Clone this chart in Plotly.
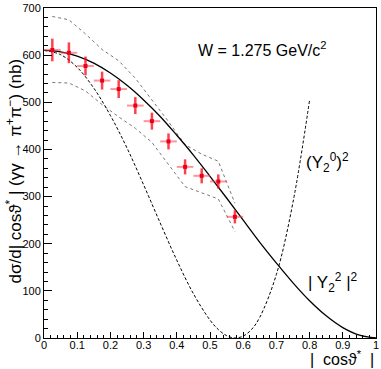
import plotly.graph_objects as go

# ---- data ----
bin_centers = [0.025, 0.075, 0.125, 0.175, 0.225, 0.275, 0.325, 0.375, 0.425, 0.475, 0.525, 0.575]
xsec = [611, 605, 577, 546, 528, 493, 460, 417, 363, 344, 332, 257]
xsec_err = [24, 22, 20, 19, 19, 18, 18, 17, 16, 16, 15, 14]
bin_halfwidth = [0.025] * 12

band_upper = [682, 675, 645, 612, 588, 551, 505, 459, 410, 390, 375, 286]
band_lower = [542, 541, 524, 495, 469, 445, 415, 368, 321, 308, 295, 226]

curve_x = [0.0, 0.05, 0.10, 0.15, 0.20, 0.25, 0.30, 0.35, 0.40, 0.45, 0.50,
           0.55, 0.60, 0.65, 0.70, 0.75, 0.80, 0.85, 0.90, 0.95, 1.0]
y22_vals = [610, 607, 598, 583, 562, 536, 505, 470, 430, 388, 343,
            297, 250, 203, 159, 117, 79, 47, 22, 6, 0]

y20_x = [0.0, 0.05, 0.10, 0.15, 0.20, 0.25, 0.30, 0.35, 0.40, 0.45, 0.50,
         0.525, 0.55, 0.575, 0.60, 0.625, 0.65, 0.70, 0.75, 0.80]
y20_vals = [610, 601, 574, 530, 472, 403, 325, 244, 165, 94, 38,
            18, 5, 0, 4, 18, 44, 135, 288, 505]

FONT = "Liberation Sans, Arial, Helvetica, sans-serif"

fig = go.Figure()

# band (dotted)
fig.add_trace(go.Scatter(x=bin_centers, y=band_upper, mode="lines",
                         line=dict(color="#777777", width=1, dash="dot"), showlegend=False))
fig.add_trace(go.Scatter(x=bin_centers, y=band_lower, mode="lines",
                         line=dict(color="#777777", width=1, dash="dot"), showlegend=False))

# (Y2^0)^2 dashed
fig.add_trace(go.Scatter(x=y20_x, y=y20_vals, mode="lines", line_shape="spline",
                         line=dict(color="black", width=1, dash="3px,2px"), showlegend=False))

# |Y2^2|^2 solid
fig.add_trace(go.Scatter(x=curve_x, y=y22_vals, mode="lines", line_shape="spline",
                         line=dict(color="black", width=1.3), showlegend=False))

# data points
fig.add_trace(go.Scatter(
    x=bin_centers, y=xsec, mode="markers",
    marker=dict(symbol="square", size=4, color="#e8001c"),
    error_x=dict(type="data", array=bin_halfwidth, color="rgba(255,60,70,0.55)", thickness=2, width=0),
    error_y=dict(type="data", array=xsec_err, color="rgba(255,0,20,0.75)", thickness=2.5, width=0),
    showlegend=False))

fig.update_layout(
    width=381, height=369,
    margin=dict(l=44, r=2, t=4, b=31),
    paper_bgcolor="white", plot_bgcolor="white",
    font=dict(family=FONT, color="black", size=11),
    xaxis=dict(range=[0, 1], showgrid=False, zeroline=False,
               showline=True, linecolor="black", linewidth=1, mirror=True,
               ticks="inside", ticklen=6, tickcolor="black", dtick=0.1, tick0=0,
               tickformat="~g", tickfont=dict(size=11), ticklabeloverflow="allow",
               ticklabelstandoff=-3,
               minor=dict(dtick=0.02, ticks="inside", ticklen=3, tickcolor="black")),
    yaxis=dict(range=[0, 700], showgrid=False, zeroline=False,
               showline=True, linecolor="black", linewidth=1, mirror=True,
               ticks="inside", ticklen=8, tickcolor="black", dtick=100, tick0=0,
               tickfont=dict(size=11), ticklabeloverflow="allow",
               minor=dict(dtick=20, ticks="inside", ticklen=4, tickcolor="black")),
    annotations=[
        dict(text="W = 1.275 GeV/c<sup>2</sup>", x=0.657, y=614, xref="x", yref="y",
             showarrow=False, font=dict(size=16, family=FONT)),
        dict(text="(Y<sub>2</sub><sup>0</sup>)<sup>2</sup>", x=0.855, y=372, xref="x", yref="y",
             showarrow=False, font=dict(size=17, family=FONT)),
        dict(text="| Y<sub>2</sub><sup>2</sup> |<sup>2</sup>", x=0.87, y=117, xref="x", yref="y",
             showarrow=False, font=dict(size=17, family=FONT)),
        dict(text="|  cos\u03d1<sup>*</sup>  |", x=1.0, y=-0.062, xref="paper", yref="paper",
             xanchor="right", yanchor="middle", showarrow=False, font=dict(size=16, family=FONT)),
        dict(text="d\u03c3/d| cos\u03d1<sup>*</sup> | (\u03b3\u03b3 \u2192 \u03c0<sup>+</sup>\u03c0<sup>\u2212</sup>) (nb)",
             x=-0.09, y=0.505, xref="paper", yref="paper", textangle=-90,
             xanchor="center", yanchor="middle", showarrow=False, font=dict(size=17, family=FONT)),
    ],
)

fig.write_html("out.html", config={"displayModeBar": False},
               post_script="document.body.style.margin='0';document.body.style.overflow='hidden';")
